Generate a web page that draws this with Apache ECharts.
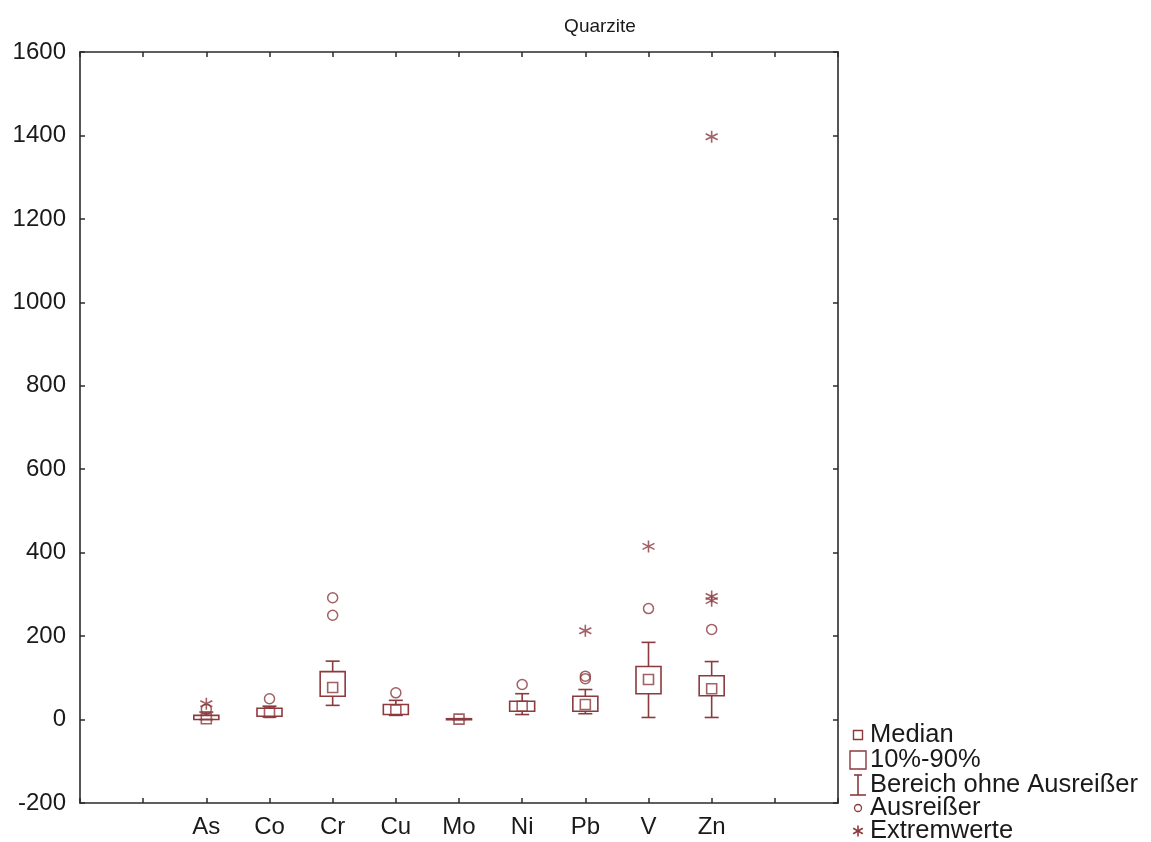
<!DOCTYPE html>
<html><head><meta charset="utf-8">
<script src="https://cdn.jsdelivr.net/npm/echarts@6/dist/echarts.min.js"></script>
<style>html,body{margin:0;padding:0;background:#fff}#c{width:1151px;height:842px}</style>
</head><body><div id="c"></div><script>
const chartTitle = 'Quarzite';
const categories = ['As', 'Co', 'Cr', 'Cu', 'Mo', 'Ni', 'Pb', 'V', 'Zn'];
const median   = [2, 17, 77, 23, 1, 32, 36, 96, 74];
const p10      = [0, 8, 56, 12, 0, 20, 20, 62, 57];
const p90      = [10, 27, 115, 36, 2, 44, 56, 127, 105];
const rangeMin = [0, 6, 34, 10, 0, 12, 14, 5, 5];
const rangeMax = [18, 32, 140, 46, 2, 62, 72, 185, 139];
const outliers = [[25], [50], [250, 292], [64], [], [84], [98, 104], [266], [216]];
const extremes = [[38], [], [], [], [], [], [213], [415], [285, 295, 1397]];
const yTicks = { min: -200, max: 1600, step: 200 };
const legendLabels = ['Median', '10%-90%', 'Bereich ohne Ausreißer', 'Ausreißer', 'Extremwerte'];

const RED = '#8b3a3e';
const AX = '#2b2b2b';
const TXT = '#1a1a1a';
const FONT = '"Liberation Sans", Arial, sans-serif';
const OFF = 2;
const axisCats = ['', ''].concat(categories, ['', '']);

const boxData = categories.map((c, i) => [i + OFF, p10[i], p90[i]]);
const whiskerData = categories.map((c, i) => [i + OFF, rangeMin[i], p10[i], p90[i], rangeMax[i]]);
const medianData = categories.map((c, i) => [i + OFF, median[i]]);
const outlierData = [];
outliers.forEach((arr, i) => arr.forEach(v => outlierData.push([i + OFF, v])));
const extremeData = [];
extremes.forEach((arr, i) => arr.forEach(v => extremeData.push([i + OFF, v])));

const ASTER = 'path://M6,0L6,12M0.8,3L11.2,9M0.8,9L11.2,3';

const chart = echarts.init(document.getElementById('c'), null, { renderer: 'canvas' });
const lineSt = { stroke: RED, lineWidth: 1.6 };

const legendRows = [735, 760, 785, 808, 831];
const LX = 858, TX = 870;
const legendGraphics = [
  { type: 'rect', shape: { x: LX - 4.5, y: legendRows[0] - 4.5, width: 9, height: 9 }, style: { fill: 'none', stroke: RED, lineWidth: 1.4 } },
  { type: 'rect', shape: { x: LX - 8, y: legendRows[1] - 9, width: 16, height: 18 }, style: { fill: 'none', stroke: RED, lineWidth: 1.4 } },
  { type: 'group', children: [
    { type: 'line', shape: { x1: LX, y1: legendRows[2] - 10, x2: LX, y2: legendRows[2] + 10 }, style: lineSt },
    { type: 'line', shape: { x1: LX - 4, y1: legendRows[2] - 10, x2: LX + 4, y2: legendRows[2] - 10 }, style: lineSt },
    { type: 'line', shape: { x1: LX - 8, y1: legendRows[2] + 10, x2: LX + 8, y2: legendRows[2] + 10 }, style: lineSt }
  ] },
  { type: 'circle', shape: { cx: LX, cy: legendRows[3], r: 3.5 }, style: { fill: 'none', stroke: RED, lineWidth: 1.3 } },
  { type: 'group', children: [
    { type: 'line', shape: { x1: LX, y1: legendRows[4] - 5.5, x2: LX, y2: legendRows[4] + 5.5 }, style: lineSt },
    { type: 'line', shape: { x1: LX - 4.8, y1: legendRows[4] - 2.8, x2: LX + 4.8, y2: legendRows[4] + 2.8 }, style: lineSt },
    { type: 'line', shape: { x1: LX - 4.8, y1: legendRows[4] + 2.8, x2: LX + 4.8, y2: legendRows[4] - 2.8 }, style: lineSt }
  ] }
];
legendLabels.forEach((t, i) => {
  legendGraphics.push({ type: 'text', x: TX, y: legendRows[i], style: { text: t, font: '25.5px ' + FONT, fill: TXT, verticalAlign: 'middle', align: 'left' } });
});

const option = {
  animation: false,
  backgroundColor: '#fff',
  title: { text: chartTitle, left: 595, top: 12, textAlign: 'center', textStyle: { fontFamily: FONT, fontSize: 19, fontWeight: 'normal', color: TXT } },
  grid: { left: 80, right: 313, top: 52, bottom: 39, containLabel: false },
  xAxis: [
    { type: 'category', data: axisCats, boundaryGap: false, position: 'bottom',
      axisLine: { onZero: false, lineStyle: { color: AX, width: 1.6 } },
      axisTick: { inside: true, length: 5, interval: 0, lineStyle: { color: AX, width: 1.5 } },
      axisLabel: { interval: 0, margin: 12, fontFamily: FONT, fontSize: 24, color: TXT },
      splitLine: { show: false } },
    { type: 'category', data: axisCats, boundaryGap: false, position: 'top',
      axisLine: { onZero: false, lineStyle: { color: AX, width: 1.6 } },
      axisTick: { inside: true, length: 5, interval: 0, lineStyle: { color: AX, width: 1.5 } },
      axisLabel: { show: false }, splitLine: { show: false } }
  ],
  yAxis: [
    { type: 'value', min: yTicks.min, max: yTicks.max, interval: yTicks.step, position: 'left',
      axisLine: { show: true, onZero: false, lineStyle: { color: AX, width: 1.6 } },
      axisTick: { show: true, inside: true, length: 5, lineStyle: { color: AX, width: 1.5 } },
      axisLabel: { margin: 14, fontFamily: FONT, fontSize: 24, color: TXT, formatter: v => String(v) },
      splitLine: { show: false } },
    { type: 'value', min: yTicks.min, max: yTicks.max, interval: yTicks.step, position: 'right',
      axisLine: { show: true, onZero: false, lineStyle: { color: AX, width: 1.6 } },
      axisTick: { show: true, inside: true, length: 5, lineStyle: { color: AX, width: 1.5 } },
      axisLabel: { show: false }, splitLine: { show: false } }
  ],
  series: [
    { name: '10%-90%', type: 'custom', xAxisIndex: 0, yAxisIndex: 0, data: boxData, encode: { x: 0, y: [1, 2] }, z: 3,
      renderItem(params, api) {
        const x = api.value(0);
        const top = api.coord([x, api.value(2)]);
        const bot = api.coord([x, api.value(1)]);
        const w = 25;
        return { type: 'rect', shape: { x: top[0] - w / 2, y: top[1], width: w, height: Math.max(bot[1] - top[1], 1) }, style: { fill: 'none', stroke: RED, lineWidth: 1.6 } };
      } },
    { name: 'Bereich ohne Ausreißer', type: 'custom', xAxisIndex: 0, yAxisIndex: 0, data: whiskerData, encode: { x: 0, y: [1, 2, 3, 4] }, z: 3,
      renderItem(params, api) {
        const x = api.value(0);
        const a = api.coord([x, api.value(1)]);
        const b = api.coord([x, api.value(2)]);
        const c = api.coord([x, api.value(3)]);
        const d = api.coord([x, api.value(4)]);
        const cx = a[0], cw = 14;
        const st = { stroke: RED, lineWidth: 1.6 };
        return { type: 'group', children: [
          { type: 'line', shape: { x1: cx, y1: d[1], x2: cx, y2: c[1] }, style: st },
          { type: 'line', shape: { x1: cx - cw / 2, y1: d[1], x2: cx + cw / 2, y2: d[1] }, style: st },
          { type: 'line', shape: { x1: cx, y1: b[1], x2: cx, y2: a[1] }, style: st },
          { type: 'line', shape: { x1: cx - cw / 2, y1: a[1], x2: cx + cw / 2, y2: a[1] }, style: st }
        ] };
      } },
    { name: 'Median', type: 'scatter', xAxisIndex: 0, yAxisIndex: 0, data: medianData, symbol: 'rect', symbolSize: 10, z: 4,
      itemStyle: { color: 'rgba(0,0,0,0)', borderColor: RED, borderWidth: 1.6 } },
    { name: 'Ausreißer', type: 'scatter', xAxisIndex: 0, yAxisIndex: 0, data: outlierData, symbol: 'circle', symbolSize: 10, z: 4,
      itemStyle: { color: 'rgba(0,0,0,0)', borderColor: RED, borderWidth: 1.5 } },
    { name: 'Extremwerte', type: 'scatter', xAxisIndex: 0, yAxisIndex: 0, data: extremeData, symbol: ASTER, symbolSize: 12, z: 4,
      itemStyle: { color: 'rgba(0,0,0,0)', borderColor: RED, borderWidth: 1.6 } }
  ],
  graphic: legendGraphics
};
chart.setOption(option);
</script></body></html>
